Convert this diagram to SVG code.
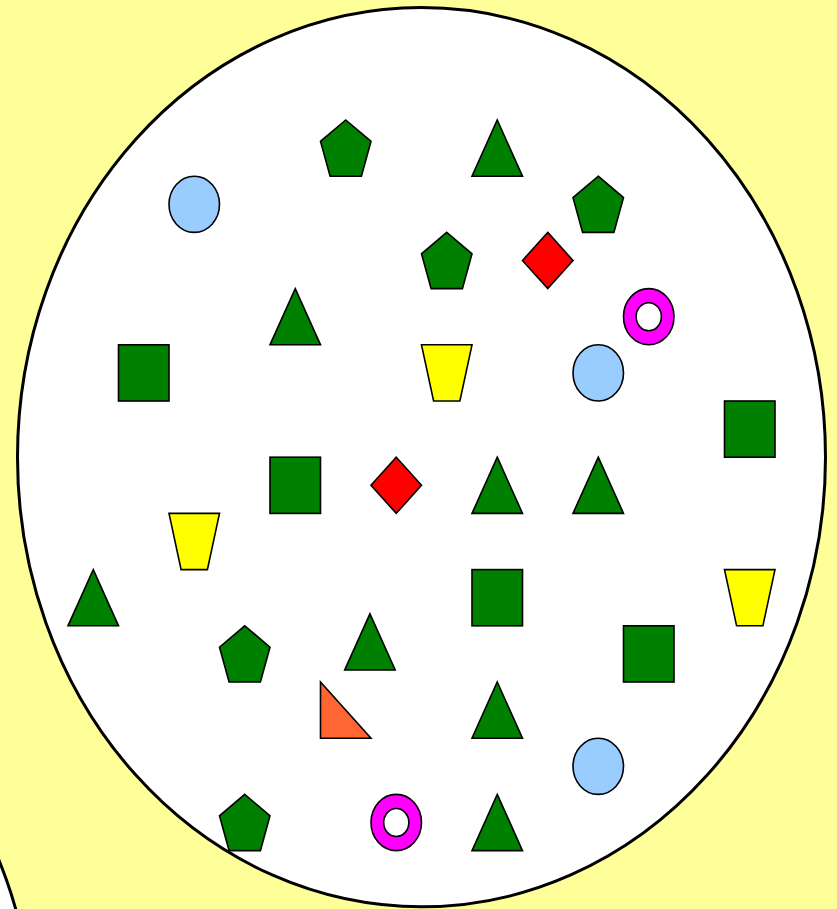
<svg xmlns="http://www.w3.org/2000/svg" xmlns:xlink="http://www.w3.org/1999/xlink" width="837" height="909" viewBox="0 0 837 909">
<style>
.s{stroke:#000;stroke-width:1.6;stroke-linejoin:miter}
.g{fill:#008000}.b{fill:#99CCFF}.r{fill:#FF0000}.m{fill:#FF00FF}.y{fill:#FFFF00}.o{fill:#FF6633}
.big{fill:#fff;stroke:#000;stroke-width:3}
</style>
<defs>
<polygon id="pent" class="s g" points="25.25,0 50.5,21.4 40.9,56.2 9.6,56.2 0,21.4"/>
<polygon id="tri" class="s g" points="25.25,0 50.5,56.2 0,56.2"/>
<rect id="sq" class="s g" x="0" y="0" width="50.5" height="56.2"/>
<ellipse id="oval" class="s b" cx="25.25" cy="28.1" rx="25.25" ry="28.1"/>
<polygon id="dia" class="s r" points="25.25,0 50.5,28.1 25.25,56.2 0,28.1"/>
<path id="ring" class="s m" fill-rule="evenodd" d="M0,28.1 A25.25,28.1 0 1 0 50.5,28.1 A25.25,28.1 0 1 0 0,28.1 Z M12.65,28.1 A12.6,14 0 1 0 37.85,28.1 A12.6,14 0 1 0 12.65,28.1 Z"/>
<polygon id="trap" class="s y" points="0,0 50.5,0 38.4,56.2 12.1,56.2"/>
<polygon id="rtri" class="s o" points="0,0 50.5,56.2 0,56.2"/>
</defs>
<rect x="0" y="0" width="837" height="909" fill="#FFFF99"/>
<g id="container">
<ellipse class="big" cx="421.5" cy="457.2" rx="404" ry="449.6"/>
</g>
<g id="corner-arc">
<ellipse class="big" cx="-369.5" cy="1044.6" rx="404" ry="449.6"/>
</g>
<g id="connectors"></g>
<g id="pentagon1" transform="translate(320.5,120)"><use xlink:href="#pent"/></g>
<g id="pentagon2" transform="translate(573,176.2)"><use xlink:href="#pent"/></g>
<g id="pentagon3" transform="translate(421.5,232.4)"><use xlink:href="#pent"/></g>
<g id="pentagon4" transform="translate(219.5,625.8)"><use xlink:href="#pent"/></g>
<g id="pentagon5" transform="translate(219.5,794.4)"><use xlink:href="#pent"/></g>
<g id="triangle1" transform="translate(472,120)"><use xlink:href="#tri"/></g>
<g id="triangle2" transform="translate(270,288.6)"><use xlink:href="#tri"/></g>
<g id="triangle3" transform="translate(472,457.2)"><use xlink:href="#tri"/></g>
<g id="triangle4" transform="translate(573,457.2)"><use xlink:href="#tri"/></g>
<g id="triangle5" transform="translate(68,569.6)"><use xlink:href="#tri"/></g>
<g id="triangle6" transform="translate(344.7,613.8)"><use xlink:href="#tri"/></g>
<g id="triangle7" transform="translate(472,682)"><use xlink:href="#tri"/></g>
<g id="triangle8" transform="translate(472,794.4)"><use xlink:href="#tri"/></g>
<g id="square1" transform="translate(118.5,344.8)"><use xlink:href="#sq"/></g>
<g id="square2" transform="translate(724.5,401)"><use xlink:href="#sq"/></g>
<g id="square3" transform="translate(270,457.2)"><use xlink:href="#sq"/></g>
<g id="square4" transform="translate(472,569.6)"><use xlink:href="#sq"/></g>
<g id="square5" transform="translate(623.5,625.8)"><use xlink:href="#sq"/></g>
<g id="oval1" transform="translate(169,176.2)"><use xlink:href="#oval"/></g>
<g id="oval2" transform="translate(573,344.8)"><use xlink:href="#oval"/></g>
<g id="oval3" transform="translate(573,738.2)"><use xlink:href="#oval"/></g>
<g id="diamond1" transform="translate(522.5,232.4)"><use xlink:href="#dia"/></g>
<g id="diamond2" transform="translate(371,457.2)"><use xlink:href="#dia"/></g>
<g id="ring1" transform="translate(623.5,288.6)"><use xlink:href="#ring"/></g>
<g id="ring2" transform="translate(371,794.4)"><use xlink:href="#ring"/></g>
<g id="trapezoid1" transform="translate(421.5,344.8)"><use xlink:href="#trap"/></g>
<g id="trapezoid2" transform="translate(169,513.4)"><use xlink:href="#trap"/></g>
<g id="trapezoid3" transform="translate(724.5,569.6)"><use xlink:href="#trap"/></g>
<g id="righttriangle1" transform="translate(320.5,682)"><use xlink:href="#rtri"/></g>
</svg>
